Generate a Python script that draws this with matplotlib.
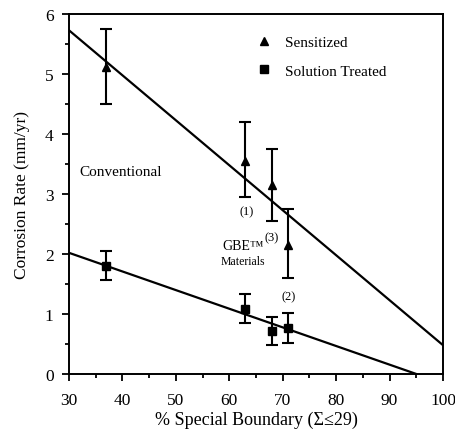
import numpy as np
import matplotlib.pyplot as plt
from matplotlib.ticker import MultipleLocator

plt.rcParams['font.family'] = ['Liberation Serif', 'DejaVu Serif']

# Percent special boundary for each sample
boundary = [37, 63, 68, 71]

# Sensitized: mean corrosion rate and error-bar limits (mm/yr)
sens_rate = [5.12, 3.55, 3.15, 2.15]
sens_low = [4.50, 2.95, 2.55, 1.60]
sens_high = [5.75, 4.20, 3.75, 2.75]

# Solution treated
sol_rate = [1.80, 1.08, 0.72, 0.77]
sol_low = [1.57, 0.85, 0.48, 0.52]
sol_high = [2.05, 1.33, 0.95, 1.02]

# Trend lines (end points)
sens_fit_x = [30, 100]
sens_fit_y = [5.73, 0.48]
sol_fit_x = [30, 95]
sol_fit_y = [2.02, 0.0]

fig = plt.figure(figsize=(4.55, 4.31), dpi=100)
ax = fig.add_axes([0.1516, 0.13, 0.822, 0.835])

ax.plot(sens_fit_x, sens_fit_y, color='black', lw=1.6)
ax.plot(sol_fit_x, sol_fit_y, color='black', lw=1.6)

sens_err = [np.subtract(sens_rate, sens_low), np.subtract(sens_high, sens_rate)]
sol_err = [np.subtract(sol_rate, sol_low), np.subtract(sol_high, sol_rate)]

ax.errorbar(boundary, sens_rate, yerr=sens_err, fmt='^', color='black',
            ms=6, capsize=4, elinewidth=1.5, capthick=1.5, label='Sensitized')
ax.errorbar(boundary, sol_rate, yerr=sol_err, fmt='s', color='black',
            ms=6, capsize=4, elinewidth=1.5, capthick=1.5, label='Solution Treated')

# sample numbering next to the sensitized points
ax.text(63.3, 2.72, '(1)', ha='center', va='center', fontsize=9)
ax.text(68.0, 2.28, '(3)', ha='center', va='center', fontsize=9)
ax.text(71.2, 1.30, '(2)', ha='center', va='center', fontsize=9)

ax.text(32.0, 3.38, 'Conventional', ha='left', va='center', fontsize=11)
ax.text(62.5, 2.14, 'GBE™', ha='center', va='center', fontsize=10)
ax.text(62.5, 1.88, 'Materials', ha='center', va='center', fontsize=8.5)

handles, labels = ax.get_legend_handles_labels()
handles = [h[0] for h in handles]
ax.legend(handles, labels, loc='upper left', bbox_to_anchor=(0.455, 0.978),
          frameon=False, fontsize=11, handletextpad=0.6, labelspacing=0.95,
          handlelength=1.5, markerscale=0.9)

ax.set_xlim(30, 100)
ax.set_ylim(0, 6)
ax.xaxis.set_major_locator(MultipleLocator(10))
ax.xaxis.set_minor_locator(MultipleLocator(5))
ax.yaxis.set_major_locator(MultipleLocator(1))
ax.yaxis.set_minor_locator(MultipleLocator(0.5))
ax.tick_params(which='major', direction='out', length=5, width=1.3, labelsize=12.5)
ax.tick_params(which='minor', direction='out', length=3, width=1.3)
ax.tick_params(axis='x', which='major', pad=8)
ax.tick_params(axis='y', which='major', pad=6)
for s in ax.spines.values():
    s.set_linewidth(1.4)

ax.set_xlabel('% Special Boundary (Σ≤29)', fontsize=13, labelpad=2)
ax.set_ylabel('Corrosion Rate (mm/yr)', fontsize=12.5, labelpad=11)

fig.savefig('out.png', dpi=100)
